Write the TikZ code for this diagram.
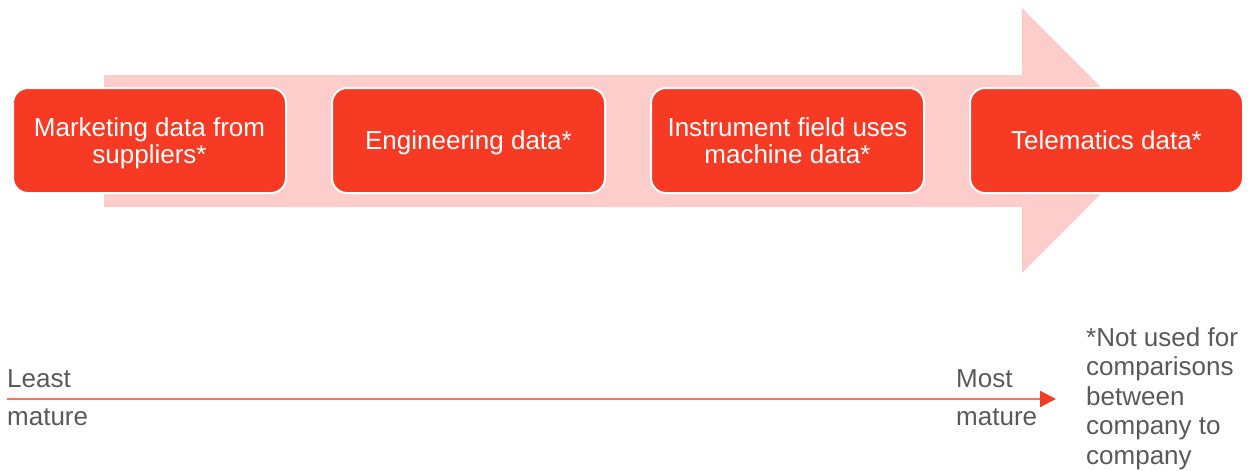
\documentclass[tikz,border=0pt]{standalone}
\usepackage{fontspec}
\setmainfont{Liberation Sans}
\usetikzlibrary{arrows.meta,positioning}
\definecolor{pale}{HTML}{FDCDCB}
\definecolor{stepred}{HTML}{F73A23}
\definecolor{linered}{HTML}{F4725F}
\definecolor{txtgray}{HTML}{595959}
\tikzset{
  stage/.style    = {draw=white, line width=2pt, fill=stepred, rounded corners=15pt,
                     minimum width=273pt, minimum height=105pt, align=center,
                     text=white, text depth=0pt, font=\fontsize{26}{27}\selectfont},
  lbl/.style      = {text=txtgray, font=\fontsize{26}{31}\selectfont, inner sep=0pt,
                     anchor=base west},
  maturity/.style = {linered, line width=2pt,
                     -{Triangle[length=16pt,width=16pt,color=stepred]}},
}
\begin{document}
\begin{tikzpicture}[x=1pt,y=-1pt]
\useasboundingbox (0,0) rectangle (1250,471);
% pale arrow behind the stages
\fill[pale] (104,75) -- (1022,75) -- (1022,8) -- (1154,140.5) -- (1022,273)
  -- (1022,207) -- (104,207) -- cycle;
\node[stage] (mkt) at (149.5,140.5) {Marketing data from\\suppliers*};
\node[stage,right=44pt of mkt] (eng) {Engineering data*};
\node[stage,right=44pt of eng] (ins) {Instrument field uses\\machine data*};
\node[stage,right=44pt of ins] (tel) {Telematics data*};
% maturity scale
\coordinate (lo) at (7,399);
\coordinate (hi) at (1056,399);
\draw[maturity] (lo) -- (hi);
\node[lbl] (least) at (7,387) {Least};
\node[lbl] (leastm) at (7,425) {mature};
\node[lbl] (most) at (956,387) {Most};
\node[lbl] (mostm) at (956,425) {mature};
\node[lbl,anchor=north west,align=left,font=\fontsize{26}{29.5}\selectfont] (note)
  at (1086,327) {*Not used for\\comparisons\\between\\company to\\company};
\end{tikzpicture}
\end{document}
